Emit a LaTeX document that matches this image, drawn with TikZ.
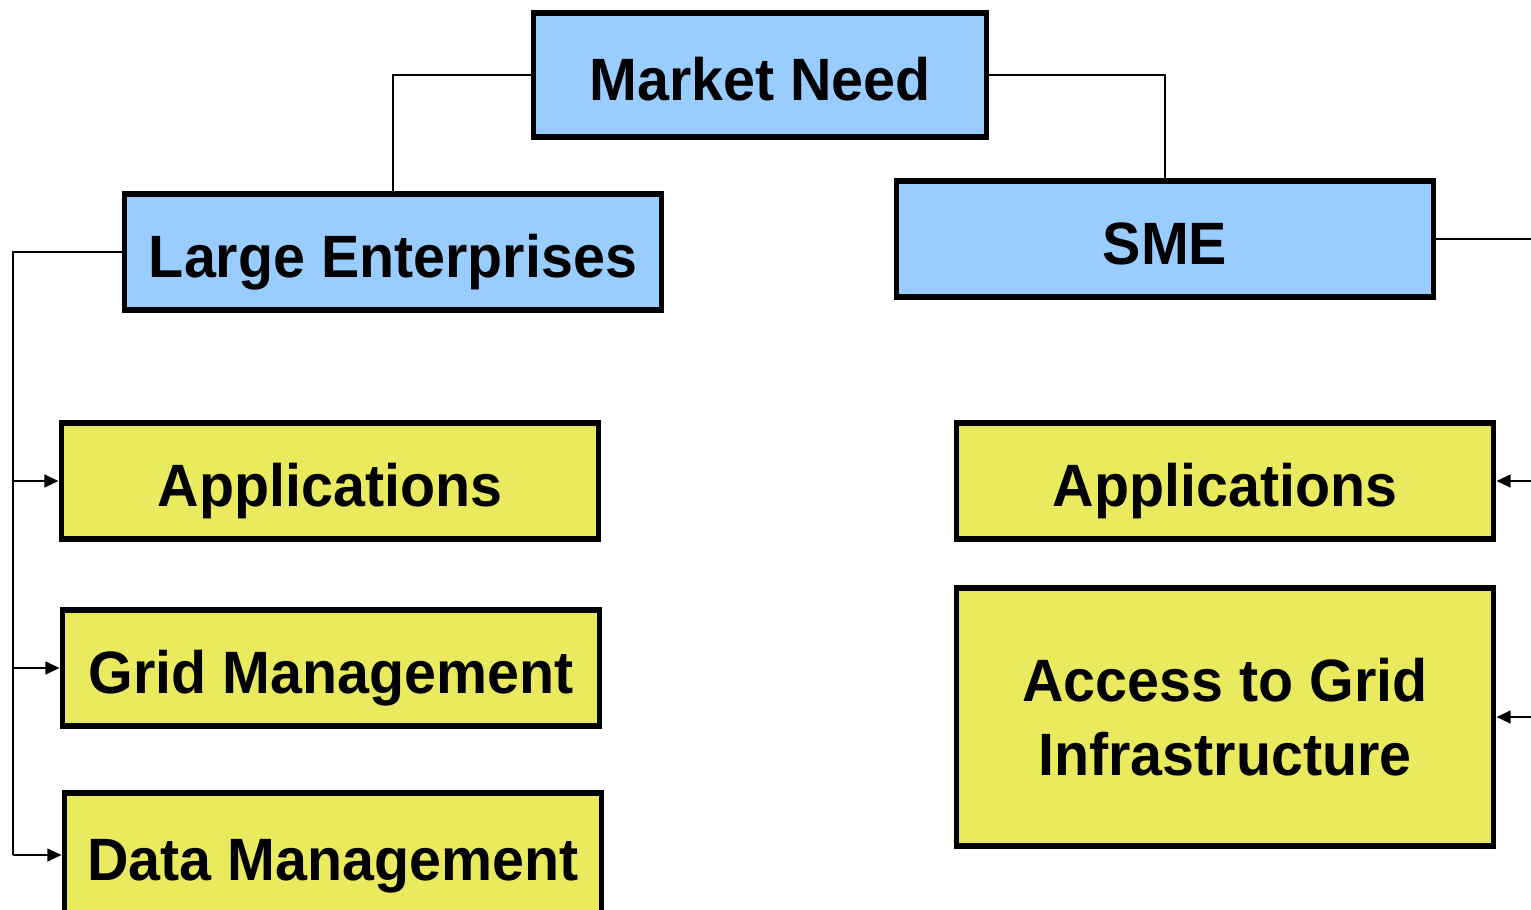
\documentclass[tikz,border=0pt]{standalone}
\usepackage{fontspec}
\setmainfont{Liberation Sans}[FakeStretch=0.96]
\usetikzlibrary{arrows.meta, positioning}
\definecolor{needblue}{RGB}{153, 204, 255}
\definecolor{areayellow}{RGB}{234, 234, 94}
\definecolor{textdark}{RGB}{0, 0, 0}

\begin{document}
\begin{tikzpicture}[
    x=0.01cm, y=-0.01cm,
    box/.style={rectangle, draw=textdark, minimum width=5.37cm, minimum height=1.16cm, align=center, font=\fontsize{17}{21}\selectfont\bfseries, line width=1.6pt, inner sep=0pt, text height=16pt, text depth=1.3pt},
    link/.style={color=textdark, line width=0.6pt},
    arrow/.style={-{Triangle[length=4pt, width=3.6pt]}, color=textdark, line width=0.6pt},
]
\clip (0, 0) rectangle (1531, 909);

% Segments
\node[box, fill=needblue, minimum width=4.53cm, minimum height=1.24cm] (need) at (760, 75) {Market Need};
\node[box, fill=needblue] (large) at (393, 252) {Large Enterprises};
\node[box, fill=needblue] (sme) at (1165, 239) {SME};

\draw[link] (need.west) -| (large.north);
\draw[link] (need.east) -| (sme.north);

% Large enterprises
\node[box, fill=areayellow] (lapps) at (330, 481) {Applications};
\node[box, fill=areayellow] (grid) at (331, 668) {Grid Management};
\node[box, fill=areayellow, minimum height=1.24cm] (data) at (333, 855) {Data Management};

\coordinate (lrail) at (13, 252);
\draw[link] (large.west) -- (lrail) -- (lrail |- data.west);
\draw[arrow] (lrail |- lapps.west) -- (lapps.west);
\draw[arrow] (lrail |- grid.west) -- (grid.west);
\draw[arrow] (lrail |- data.west) -- (data.west);

% SME
\node[box, fill=areayellow] (sapps) at (1225, 481) {Applications};
\node[box, fill=areayellow, minimum height=2.58cm, text height=, text depth=] (access) at (1225, 717) {Access to Grid\\Infrastructure};

\coordinate (rrail) at (1548, 239);
\draw[link] (sme.east) -- (rrail) -- (rrail |- access.east);
\draw[arrow] (rrail |- sapps.east) -- (sapps.east);
\draw[arrow] (rrail |- access.east) -- (access.east);

\end{tikzpicture}
\end{document}
